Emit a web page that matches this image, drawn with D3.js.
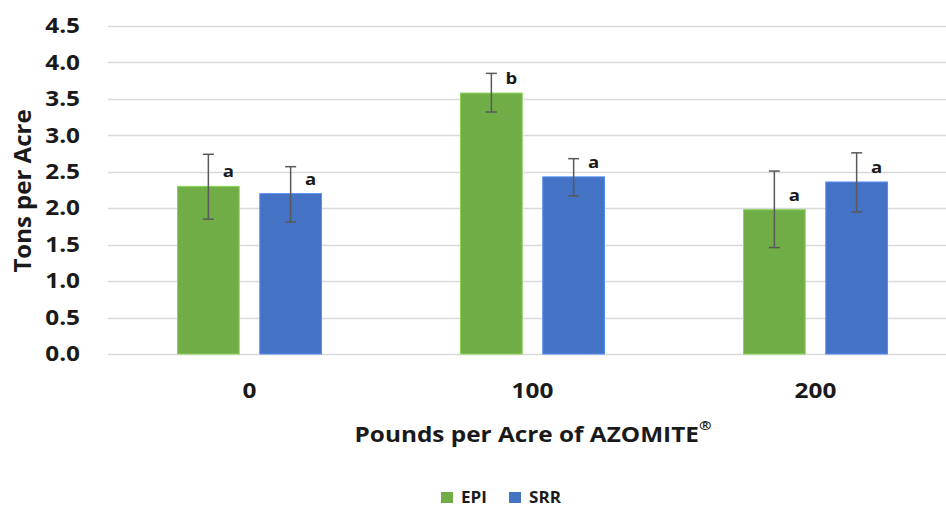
<!DOCTYPE html>
<html>
<head>
<meta charset="utf-8">
<script src="https://cdn.jsdelivr.net/npm/d3@7"></script>
<style>
  body { margin: 0; background: #fff; }
  text { font-family: "Open Sans", "Noto Sans", sans-serif; font-weight: bold; fill: #1a1a1a; }
</style>
</head>
<body>
<svg id="chart" width="946" height="508"></svg>
<script>
var width = 946,
    height = 508;

var categories = ["0", "100", "200"];
var series = ["EPI", "SRR"];
var epiValues = [2.30, 3.58, 1.98];
var srrValues = [2.20, 2.43, 2.36];
var epiErrLow = [1.85, 3.32, 1.46];
var epiErrHigh = [2.74, 3.85, 2.51];
var srrErrLow = [1.81, 2.17, 1.95];
var srrErrHigh = [2.57, 2.68, 2.76];
var epiLetters = ["a", "b", "a"];
var srrLetters = ["a", "a", "a"];
var yTicks = [0, 0.5, 1, 1.5, 2, 2.5, 3, 3.5, 4, 4.5];

var colors = { EPI: "#70ad47", SRR: "#4472c4" };
// the source picture is a bit wider than tall, text gets stretched too
var stretch = 1.16;

var rows = categories.map(function(c, i) {
  return [
    { cat: c, key: "EPI", value: epiValues[i], lo: epiErrLow[i], hi: epiErrHigh[i], letter: epiLetters[i] },
    { cat: c, key: "SRR", value: srrValues[i], lo: srrErrLow[i], hi: srrErrHigh[i], letter: srrLetters[i] }
  ];
});
var bars = d3.merge(rows);

var margin = { left: 108, right: -11, top: 26, bottom: 154 };

var x0 = d3.scaleBand()
    .domain(categories)
    .range([margin.left, width - margin.right])
    .paddingInner(0)
    .paddingOuter(0);

var x1 = d3.scaleBand()
    .domain(series)
    .range([x0.bandwidth() / 2 - 72, x0.bandwidth() / 2 + 72])
    .paddingInner(18 / 72)
    .paddingOuter(0);

var y = d3.scaleLinear()
    .domain([0, 4.5])
    .range([height - margin.bottom, margin.top]);

var svg = d3.select("#chart");

// gridlines
svg.append("g")
  .selectAll("line")
  .data(yTicks)
  .enter().append("line")
    .attr("x1", margin.left)
    .attr("x2", width)
    .attr("y1", function(d) { return Math.round(y(d)) + 0.5; })
    .attr("y2", function(d) { return Math.round(y(d)) + 0.5; })
    .attr("stroke", "#d9d9d9")
    .attr("stroke-width", 1.3);

// y axis labels
var yAxis = d3.axisLeft(y).tickValues(yTicks).tickFormat(d3.format(".1f")).tickSize(0).tickPadding(0);
svg.append("g")
    .attr("transform", "translate(" + 80 + ",0)")
    .call(yAxis)
    .call(function(g) { g.select(".domain").remove(); })
    .selectAll("text")
      .attr("font-size", 21)
      .attr("font-family", null)
      .attr("fill", "#1a1a1a")
      .attr("transform", "scale(" + stretch + ",1)");

// bars
svg.append("g")
  .selectAll("rect")
  .data(bars)
  .enter().append("rect")
    .attr("x", function(d) { return x0(d.cat) + x1(d.key); })
    .attr("y", function(d) { return y(d.value); })
    .attr("width", x1.bandwidth())
    .attr("height", function(d) { return y(0) - y(d.value); })
    .attr("fill", function(d) { return colors[d.key]; })
    .attr("stroke", function(d) { return d3.color(colors[d.key]).brighter(0.6); })
    .attr("stroke-width", 1);

// error bars
var err = svg.append("g")
  .selectAll("g")
  .data(bars)
  .enter().append("g")
    .attr("stroke", "#595959")
    .attr("stroke-width", 1.5);

function cx(d) { return x0(d.cat) + x1(d.key) + x1.bandwidth() / 2; }

err.append("line")
    .attr("x1", cx).attr("x2", cx)
    .attr("y1", function(d) { return y(d.lo); })
    .attr("y2", function(d) { return y(d.hi); });
err.append("line")
    .attr("x1", function(d) { return cx(d) - 5.5; })
    .attr("x2", function(d) { return cx(d) + 5.5; })
    .attr("y1", function(d) { return y(d.hi); })
    .attr("y2", function(d) { return y(d.hi); });
err.append("line")
    .attr("x1", function(d) { return cx(d) - 5.5; })
    .attr("x2", function(d) { return cx(d) + 5.5; })
    .attr("y1", function(d) { return y(d.lo); })
    .attr("y2", function(d) { return y(d.lo); });

// significance letters
svg.append("g")
  .selectAll("text")
  .data(bars)
  .enter().append("text")
    .attr("transform", function(d) {
      return "translate(" + (cx(d) + 20) + "," + (y(d.value) - 9) + ") scale(" + stretch + ",1)";
    })
    .attr("text-anchor", "middle")
    .attr("font-size", 16)
    .text(function(d) { return d.letter; });

// x axis labels
var xAxis = d3.axisBottom(x0).tickSize(0).tickPadding(0);
svg.append("g")
    .attr("transform", "translate(0," + 383 + ")")
    .call(xAxis)
    .call(function(g) { g.select(".domain").remove(); })
    .selectAll("text")
      .attr("font-size", 21)
      .attr("font-family", null)
      .attr("fill", "#1a1a1a")
      .attr("transform", "scale(" + stretch + ",1)");

// axis titles
var xt = svg.append("text")
    .attr("transform", "translate(533,442) scale(" + stretch + ",1)")
    .attr("text-anchor", "middle")
    .attr("font-size", 21);
xt.append("tspan").text("Pounds per Acre of AZOMITE");
xt.append("tspan").attr("font-size", 13).attr("dy", -12).text("®");

svg.append("text")
    .attr("transform", "translate(31,191) rotate(-90)")
    .attr("text-anchor", "middle")
    .attr("font-size", 24)
    .text("Tons per Acre");

// legend
var legend = svg.append("g")
  .selectAll("g")
  .data(series)
  .enter().append("g")
    .attr("transform", function(d, i) { return "translate(" + [441, 509][i] + ",492)"; });
legend.append("rect")
    .attr("width", 12)
    .attr("height", 11)
    .attr("fill", function(d) { return colors[d]; });
legend.append("text")
    .attr("transform", "translate(20,11) scale(1.1,1)")
    .attr("font-size", 15.5)
    .text(function(d) { return d; });
</script>
</body>
</html>
